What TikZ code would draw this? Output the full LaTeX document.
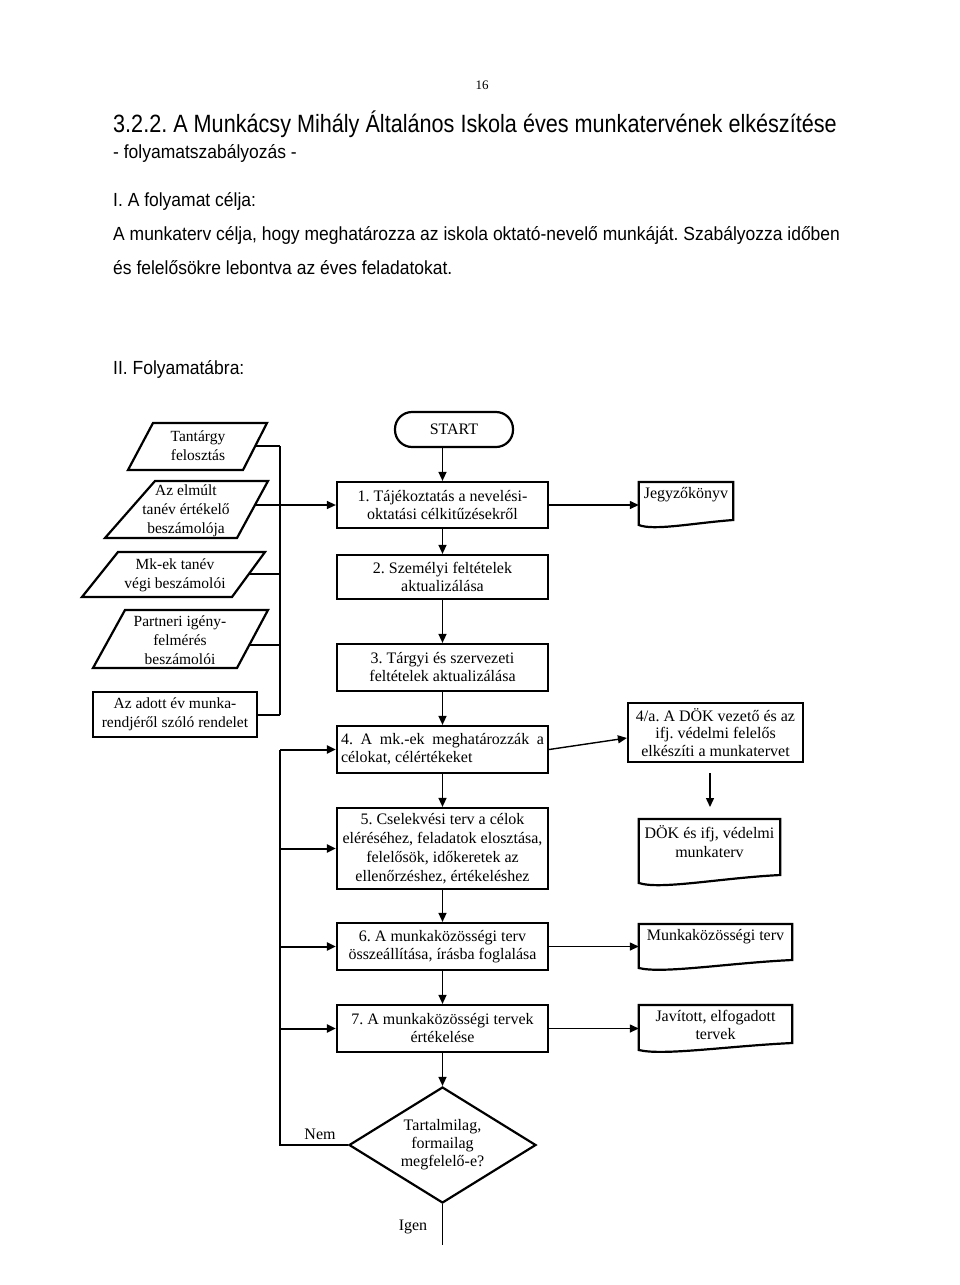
\documentclass[tikz,border=0pt]{standalone}
\usepackage{fontspec}
\setmainfont{Liberation Serif}
\newfontfamily\narrowA[FakeStretch=0.865]{Liberation Sans}
\newfontfamily\narrowB[FakeStretch=0.92]{Liberation Sans}
\usetikzlibrary{arrows.meta,shapes.geometric,calc}
\newcommand\dfont{\fontsize{16}{18}\selectfont}
\newcommand\lfont{\fontsize{15.5}{19}\selectfont}
\newcommand\hbig{\narrowA\fontsize{25}{30}\selectfont}
\newcommand\hmid{\narrowB\fontsize{19}{24}\selectfont}
\begin{document}
\frenchspacing
\begin{tikzpicture}[x=1pt,y=-1pt,
  box/.style={draw, line width=2.2pt, inner sep=0pt, align=center, font=\dfont},
  txt/.style={inner sep=0pt, align=center, font=\lfont},
  doc/.style={inner xsep=0pt, inner ysep=5pt, anchor=north, align=center, font=\dfont},
  docline/.style={line width=2.2pt, line join=miter},
  par/.style={line width=2.2pt, line join=miter},
  conn/.style={line width=1.4pt},
  bus/.style={line width=2pt},
  arr/.style={conn, -{Triangle[length=9pt,width=8pt]}},
  busarr/.style={bus, -{Triangle[length=9pt,width=8pt]}},
  head/.style={inner sep=0pt, anchor=base west}
]
\useasboundingbox (0,0) rectangle (960,1285);
\fill[white] (0,0) rectangle (960,1285);

% ---------- header text ----------
\node[inner sep=0pt, font=\fontsize{13}{15}\selectfont] (pg) at (482,85) {16};
\node[head, font=\hbig] (t1) at (113,132) {3.2.2. A Munkácsy Mihály Általános Iskola éves munkatervének elkészítése};
\node[head, font=\hmid] (t2) at (113,158) {- folyamatszabályozás -};
\node[head, font=\hmid] (t3) at (113,206) {I. A folyamat célja:};
\node[head, font=\hmid] (t4) at (113,240) {A munkaterv célja, hogy meghatározza az iskola oktató-nevelő munkáját. Szabályozza időben};
\node[head, font=\hmid] (t5) at (113,274) {és felelősökre lebontva az éves feladatokat.};
\node[head, font=\hmid] (t6) at (113,374) {II. Folyamatábra:};

% ---------- left inputs ----------
\draw[par] (153,423) -- (267,423) -- (243,470) -- (128,470) -- cycle;
\node[txt] (p1) at (198,446) {Tantárgy\\felosztás};
\draw[par] (155,481) -- (268,481) -- (237,538) -- (105,538) -- cycle;
\node[txt] (p2) at (186,511) {Az elmúlt\\tanév értékelő\\beszámolója};
\draw[par] (118,552) -- (265,552) -- (232,597) -- (82,597) -- cycle;
\node[txt] (p3) at (175,575) {Mk-ek tanév\\végi beszámolói};
\draw[par] (125,610) -- (268,610) -- (237,668) -- (93,668) -- cycle;
\node[txt] (p4) at (180,640) {Partneri igény-\\felmérés\\beszámolói};
\node[txt, draw, line width=2.2pt, minimum width=164pt, minimum height=45pt] (p5) at (175,714.5) {Az adott év munka-\\rendjéről szóló rendelet};

\coordinate (p1r) at (255,446);
\coordinate (p2r) at (255,505);
\coordinate (p3r) at (249,574);
\coordinate (p4r) at (249,645);
\coordinate (busU) at (280,446);
\coordinate (busL) at (p5.east -| busU);

% ---------- main column ----------
\node[draw, line width=2.2pt, rounded corners=17pt, minimum width=118pt, minimum height=35pt, inner sep=0pt, font=\dfont] (start) at (454,429.5) {START};
\node[box, minimum width=211pt, minimum height=46pt] (b1) at (442.5,505) {1. Tájékoztatás a nevelési-\\oktatási célkitűzésekről};
\node[box, minimum width=211pt, minimum height=44pt] (b2) at (442.5,577) {2. Személyi feltételek\\aktualizálása};
\node[box, minimum width=211pt, minimum height=47pt] (b3) at (442.5,667.5) {3. Tárgyi és szervezeti\\feltételek aktualizálása};
\node[box, minimum width=211pt, minimum height=47pt, text width=203pt, align=justify] (b4) at (442.5,749.5) {4. A mk.-ek meghatározzák a\linebreak célokat, célértékeket};
\node[box, minimum width=211pt, minimum height=81pt, font=\fontsize{16}{19}\selectfont] (b5) at (442.5,848.5) {5. Cselekvési terv a célok\\eléréséhez, feladatok elosztása,\\felelősök, időkeretek az\\ellenőrzéshez, értékeléshez};
\node[box, minimum width=211pt, minimum height=47pt] (b6) at (442.5,946.5) {6. A munkaközösségi terv\\összeállítása, írásba foglalása};
\node[box, minimum width=211pt, minimum height=47pt] (b7) at (442.5,1028.5) {7. A munkaközösségi tervek\\értékelése};
\node[draw, diamond, shape aspect=1.6, line width=2.2pt, minimum width=187pt, minimum height=116pt, inner sep=0pt, align=center, font=\dfont] (dec) at (442.5,1145) {Tartalmilag,\\formailag\\megfelelő-e?};
\coordinate (endc) at (442.5,1245);
\node[inner sep=0pt, font=\dfont] (igen) at (413,1227) {Igen};
\node[inner sep=0pt, font=\dfont] (nem) at (320,1134) {Nem};

% ---------- right column ----------
\node[doc, minimum width=94pt] (jk) at (686,482) {Jegyzőkönyv};
\draw[docline] (jk.north west) -- (jk.north east) -- ++(0,38)
  .. controls +(-40,3) and +(15,6) .. ($(jk.north west)+(0,43)$) -- cycle;
\node[box, minimum width=175pt, minimum height=59pt, font=\fontsize{16}{17.5}\selectfont] (d4a) at (715.5,732.5) {4/a. A DÖK vezető és az\\ifj. védelmi felelős\\elkészíti a munkatervet};
\node[doc, minimum width=141pt, inner ysep=6pt, font=\fontsize{16}{19}\selectfont] (dd) at (709.5,819) {DÖK és ifj, védelmi\\munkaterv};
\draw[docline] (dd.north west) -- (dd.north east) -- ++(0,56)
  .. controls +(-60,3) and +(22,7) .. ($(dd.north west)+(0,64)$) -- cycle;
\node[doc, minimum width=153pt] (mk) at (715.5,924) {Munkaközösségi terv};
\draw[docline] (mk.north west) -- (mk.north east) -- ++(0,36)
  .. controls +(-64,3) and +(24,6) .. ($(mk.north west)+(0,44)$) -- cycle;
\node[doc, minimum width=153pt, font=\fontsize{16}{18}\selectfont] (jav) at (715.5,1005) {Javított, elfogadott\\tervek};
\draw[docline] (jav.north west) -- (jav.north east) -- ++(0,38)
  .. controls +(-64,3) and +(24,6) .. ($(jav.north west)+(0,45)$) -- cycle;

% ---------- connectors ----------
\draw[bus] (busU) -- (busL);
\draw[bus] (p1r) -- (busU);
\draw[bus] (p3r) -- (p3r -| busU);
\draw[bus] (p4r) -- (p4r -| busU);
\draw[bus] (p5.east) -- (busL);
\draw[arr] (p2r) -- (b1.west);

\draw[arr] (start.south -| b1.north) -- (b1.north);
\draw[arr] (b1.south) -- (b2.north);
\draw[arr] (b2.south) -- (b3.north);
\draw[arr] (b3.south) -- (b4.north);
\draw[arr] (b4.south) -- (b5.north);
\draw[arr] (b5.south) -- (b6.north);
\draw[arr] (b6.south) -- (b7.north);
\draw[arr] (b7.south) -- (dec.north);
\draw[conn] (dec.south) -- (endc);

\coordinate (loopB) at (280,1145);
\coordinate (loopT) at (280,749.5);
\draw[bus] (dec.west) -- (loopB) -- (loopT);
\draw[busarr] (loopT) -- (b4.west);
\draw[busarr] (b5.west -| loopT) -- (b5.west);
\draw[busarr] (b6.west -| loopT) -- (b6.west);
\draw[busarr] (b7.west -| loopT) -- (b7.west);

\draw[arr] (b1.east) -- (b1.east -| jk.west);
\draw[arr] (b4.east) -- ($(d4a.west)+(0,5.5)$);
\coordinate (dx) at ($(d4a.south)+(-5.5,0)$);
\draw[arr, shorten <=10pt, shorten >=12pt] (dx) -- (dx |- dd.north);
\draw[arr] (b6.east) -- (b6.east -| mk.west);
\draw[arr] (b7.east) -- (b7.east -| jav.west);
\end{tikzpicture}
\end{document}
